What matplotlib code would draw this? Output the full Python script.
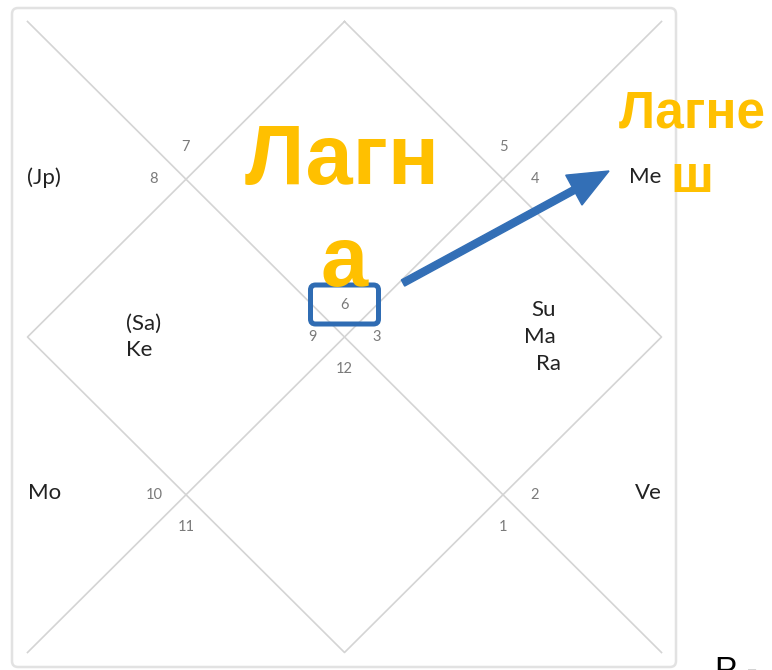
import matplotlib.pyplot as plt
from matplotlib.patches import FancyBboxPatch, FancyArrow

# chart data
house_signs = [6, 7, 8, 9, 10, 11, 12, 1, 2, 3, 4, 5]
planet_names = ['(Jp)', '(Sa)', 'Ke', 'Mo', 'Ve', 'Su', 'Ma', 'Ra', 'Me']
planet_houses = [3, 4, 4, 5, 9, 10, 10, 10, 11]
lagna_house = 1
lagna_label = ['Лагн', 'а']
lord_label = ['Лагне', 'ш']

# chart frame (pixels)
x0, x1 = 27.5, 661.5
y0, y1 = 21.5, 652.5
cx, cy = (x0 + x1) / 2, (y0 + y1) / 2
qxl, qxr = (x0 + cx) / 2, (cx + x1) / 2
qyt, qyb = (y0 + cy) / 2, (cy + y1) / 2

fig = plt.figure(figsize=(7.72, 6.70), dpi=100)
ax = fig.add_axes([0, 0, 1, 1])
ax.set_xlim(0, 772)
ax.set_ylim(670, 0)
ax.axis('off')

# outer card
ax.add_patch(FancyBboxPatch((12, 8), 664, 659, boxstyle='round,pad=0,rounding_size=6',
                            fc='white', ec='#e2e2e2', lw=1.8, zorder=0))

line_kw = dict(color='#d4d4d4', lw=1.2, zorder=1)
ax.plot([x0, x1], [y0, y1], **line_kw)
ax.plot([x1, x0], [y0, y1], **line_kw)
ax.plot([cx, x1, cx, x0, cx], [y0, cy, y1, cy, y0], **line_kw)

# where each house number sits: vertex of the house + offset direction
d = 32
num_pos = [
    (cx, cy - d), (qxl, qyt - d), (qxl - d, qyt), (cx - d, cy),
    (qxl - d, qyb), (qxl, qyb + d), (cx, cy + d), (qxr, qyb + d),
    (qxr + d, qyb), (cx + d, cy), (qxr + d, qyt), (qxr, qyt - d),
]
for (nx, ny), s in zip(num_pos, house_signs):
    ax.text(nx, ny, str(s), ha='center', va='center', fontsize=10.5,
            color='#7a7a7a', family='Lato', zorder=3)

# anchor (x, y, alignment) for planets inside each house
house_anchor = {
    3: (x0, qyt - 2, 'left'), 4: (qxl - 42, cy, 'center'),
    5: (x0, qyb - 2, 'left'), 9: (x1, qyb - 2, 'right'),
    10: (qxr + 41, cy, 'center'), 11: (x1, qyt - 2, 'right'),
}
line_h = 27
for h in sorted(set(planet_houses)):
    names = [p for p, ph in zip(planet_names, planet_houses) if ph == h]
    hx, hy, ha = house_anchor[h]
    start = hy - (len(names) - 1) * line_h / 2
    for i, p in enumerate(names):
        dx = [0, -4, 4][i % 3] if len(names) == 3 else (-5 * i)
        ax.text(hx + dx, start + i * line_h, p, ha=ha, va='center',
                fontsize=16, color='#222222', family='Lato', zorder=3)

# lagna box around house 1 sign number
lx, ly = num_pos[lagna_house - 1]
ax.add_patch(FancyBboxPatch((lx - 34, ly - 20), 68, 39,
                            boxstyle='round,pad=0,rounding_size=5',
                            fc='none', ec='#2f6cb3', lw=3.6, zorder=4))

# arrow from lagna box to lagna lord
tail = (403, 283)
tip = (609, 171)
ax.add_patch(FancyArrow(tail[0], tail[1], tip[0] - tail[0], tip[1] - tail[1],
                        width=7, head_width=34, head_length=40,
                        length_includes_head=True, fc='#336fb6', ec='#336fb6',
                        zorder=4))

orange = '#FFC000'
big = dict(ha='center', va='baseline', color=orange, fontweight='bold',
           family='Liberation Sans', zorder=5)
ax.text(cx - 2, 184, lagna_label[0], fontsize=61, **big)
ax.text(cx, 286, lagna_label[1], fontsize=61, **big)
ax.text(692, 127, lord_label[0], fontsize=37, **big)
ax.text(692, 192, lord_label[1], fontsize=37, **big)

ax.text(715, 656, 'Р -', ha='left', va='top', fontsize=24, color='black',
        family='Liberation Sans', zorder=5)

fig.savefig('out.png', dpi=100)
